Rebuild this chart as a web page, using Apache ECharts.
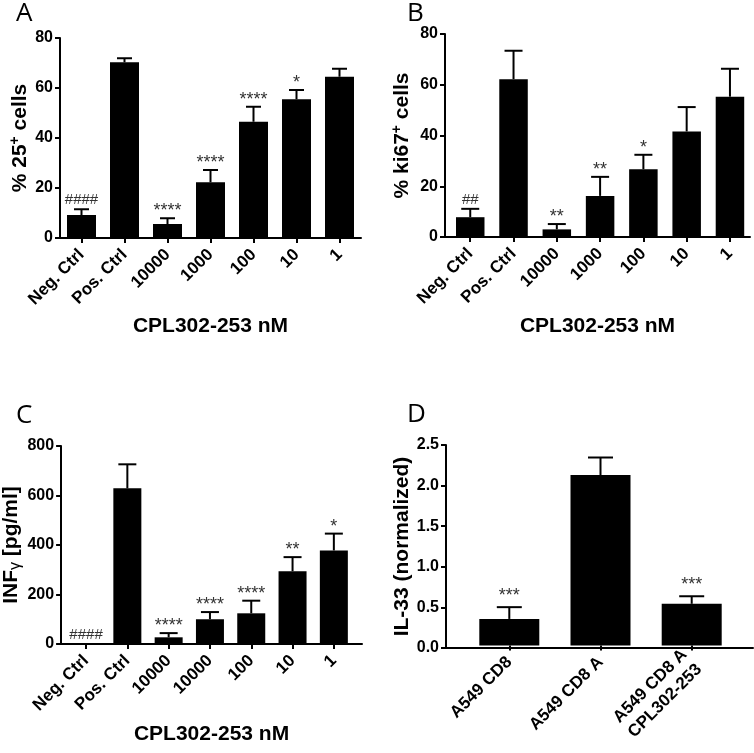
<!DOCTYPE html>
<html>
<head>
<meta charset="utf-8">
<script src="https://cdn.jsdelivr.net/npm/echarts@6/dist/echarts.min.js"></script>
<style>html,body{margin:0;padding:0;background:#fff}#c{width:754px;height:753px}</style>
</head>
<body>
<div id="c"></div>
<script>
// ---------- data ----------
const catsA = ['Neg. Ctrl', 'Pos. Ctrl', '10000', '1000', '100', '10', '1'];
const valsA = [9.2, 70.3, 5.6, 22.3, 46.5, 55.5, 64.5];
const errA  = [2.3, 1.6, 2.3, 4.9, 6.0, 3.7, 3.2];
const sigA  = ['####', '', '****', '****', '****', '*', ''];

const catsB = ['Neg. Ctrl', 'Pos. Ctrl', '10000', '1000', '100', '10', '1'];
const valsB = [7.8, 62.2, 3.0, 16.2, 26.7, 41.6, 55.3];
const errB  = [3.3, 11.2, 2.1, 7.5, 5.7, 9.6, 11.0];
const sigB  = ['##', '', '**', '**', '*', '', ''];

const catsC = ['Neg. Ctrl', 'Pos. Ctrl', '10000', '10000', '100', '10', '1'];
const valsC = [0, 629, 27, 100, 124, 294, 378];
const errC  = [0, 97, 17, 29, 51, 57, 68];
const sigC  = ['####', '', '****', '****', '****', '**', '*'];

const catsD = ['A549 CD8', 'A549 CD8 A', 'A549 CD8 A\nCPL302-253'];
const valsD = [0.33, 2.126, 0.519];
const errD  = [0.147, 0.218, 0.094];
const sigD  = ['***', '', '***'];

const xTitle = 'CPL302-253 nM';

// ---------- chart ----------
const FF = '"Liberation Sans", Arial, sans-serif';
const chart = echarts.init(document.getElementById('c'));

// frame: axes box; plot: where the category bands live
const panels = [
  {cats: catsA, vals: valsA, err: errA, sig: sigA,
   frame: {left: 60, top: 38, width: 301, height: 200}, plot: {left: 60, width: 301},
   ymax: 80, yint: 20, yname: '{b|% 25}{s|+}{b| cells}', yGap: 28,
   xname: xTitle, xGap: 78, barW: 29, capW: 15, gs: 7, gh: 9, fmt: null},
  {cats: catsB, vals: valsB, err: errB, sig: sigB,
   frame: {left: 445, top: 34, width: 305, height: 203}, plot: {left: 448.6, width: 303},
   ymax: 80, yint: 20, yname: '{b|% ki67}{s|+}{b| cells}', yGap: 31,
   xname: xTitle, xGap: 79, barW: 28.5, capW: 18, gs: 7, gh: 9, fmt: null},
  {cats: catsC, vals: valsC, err: errC, sig: sigC,
   frame: {left: 56, top: 446, width: 306, height: 198}, plot: {left: 65.4, width: 289.1},
   ymax: 800, yint: 200, yname: '{b|INF}{g|γ}{b| [pg/ml]}', yGap: 23,
   xname: xTitle, xGap: 80, barW: 28, capW: 18, gs: 7, gh: 9, fmt: null},
  {cats: catsD, vals: valsD, err: errD, sig: sigD,
   frame: {left: 446, top: 445, width: 307, height: 203}, plot: {left: 463.7, width: 273.6},
   ymax: 2.5, yint: 0.5, yname: 'IL-33 (normalized)', yGap: 33,
   xname: '', xGap: 0, barW: 60, capW: 25, gs: 11, gh: 13, fmt: v => v.toFixed(1)}
];

const grids = [], xAxes = [], yAxes = [], series = [];
const axisStyle = {color: '#000', width: 2};
panels.forEach((p, k) => {
  const gF = 2 * k, gP = 2 * k + 1;
  grids.push(Object.assign({}, p.frame));
  grids.push({left: p.plot.left, width: p.plot.width, top: p.frame.top, height: p.frame.height});
  // frame axes
  xAxes.push({
    type: 'value', gridIndex: gF, min: 0, max: 1,
    splitLine: {show: false}, axisTick: {show: false}, axisLabel: {show: false},
    axisLine: {show: true, onZero: false, lineStyle: axisStyle},
    name: p.xname, nameLocation: 'middle', nameGap: p.xGap,
    nameTextStyle: {color: '#000', fontWeight: 'bold', fontSize: 21, fontFamily: FF, verticalAlign: 'top'}
  });
  yAxes.push({
    type: 'value', gridIndex: gF, min: 0, max: p.ymax, interval: p.yint,
    splitLine: {show: false},
    axisLine: {show: true, onZero: false, lineStyle: axisStyle},
    axisTick: {show: true, length: 5, lineStyle: axisStyle},
    axisLabel: {margin: 7, color: '#000', fontWeight: 'bold', fontSize: 16, fontFamily: FF,
      formatter: p.fmt || (v => String(v))},
    name: p.yname, nameLocation: 'middle', nameGap: p.yGap,
    nameTextStyle: {color: '#000', fontWeight: 'bold', fontSize: 21, fontFamily: FF,
      rich: {
        b: {fontWeight: 'bold', fontSize: 21, fontFamily: FF, color: '#000', lineHeight: 24},
        s: {fontWeight: 'bold', fontSize: 14, fontFamily: FF, color: '#000', verticalAlign: 'top', lineHeight: 14},
        g: {fontWeight: 'normal', fontSize: 16, fontFamily: FF, color: '#000', verticalAlign: 'bottom', lineHeight: 20}
      }}
  });
  // plot axes
  xAxes.push({
    type: 'category', gridIndex: gP, data: p.cats,
    axisLine: {show: false},
    axisTick: {show: true, alignWithLabel: true, interval: 0, length: 5, lineStyle: axisStyle},
    axisLabel: {interval: 0, rotate: 45, margin: 14,
      color: '#000', fontWeight: 'bold', fontSize: 17, fontFamily: FF, lineHeight: 21, padding: [24, 0, 0, 0]}
  });
  yAxes.push({type: 'value', gridIndex: gP, min: 0, max: p.ymax, show: false});
  const xi = xAxes.length - 1, yi = yAxes.length - 1;
  series.push({
    type: 'bar', xAxisIndex: xi, yAxisIndex: yi, barWidth: p.barW,
    itemStyle: {color: '#000'}, silent: true,
    data: p.vals
  });
  series.push({
    type: 'custom', xAxisIndex: xi, yAxisIndex: yi, clip: false, silent: true,
    data: p.vals.map((v, i) => [i, v, v + p.err[i]]),
    renderItem: function (params, api) {
      const i = api.value(0), m = api.value(1), t = api.value(2);
      const b = api.coord([i, m]), q = api.coord([i, t]);
      const ch = [];
      if (t > m) {
        ch.push({type: 'line', shape: {x1: q[0], y1: b[1], x2: q[0], y2: q[1]}, style: {stroke: '#000', lineWidth: 2}});
        ch.push({type: 'line', shape: {x1: q[0] - p.capW / 2, y1: q[1], x2: q[0] + p.capW / 2, y2: q[1]}, style: {stroke: '#000', lineWidth: 2}});
      }
      const s = p.sig[params.dataIndex];
      if (s) {
        const star = s[0] === '*';
        ch.push({type: 'text', style: {text: s, x: q[0], y: q[1] - (star ? p.gs : p.gh), align: 'center',
          verticalAlign: 'middle', fontSize: star ? 18 : 15, fill: '#333', fontFamily: FF}});
      }
      return {type: 'group', children: ch};
    }
  });
});

const letterStyle = {fontSize: 26, fontWeight: 'normal', color: '#000', fontFamily: '"Open Sans", sans-serif'};
chart.setOption({
  animation: false,
  backgroundColor: '#fff',
  title: [
    {text: 'A', left: 16, top: 1, padding: 0, textStyle: letterStyle},
    {text: 'B', left: 407, top: 1, padding: 0, textStyle: letterStyle},
    {text: 'C', left: 16, top: 403, padding: 0, textStyle: letterStyle},
    {text: 'D', left: 407, top: 402, padding: 0, textStyle: letterStyle}
  ],
  grid: grids, xAxis: xAxes, yAxis: yAxes, series: series
});
</script>
</body>
</html>
